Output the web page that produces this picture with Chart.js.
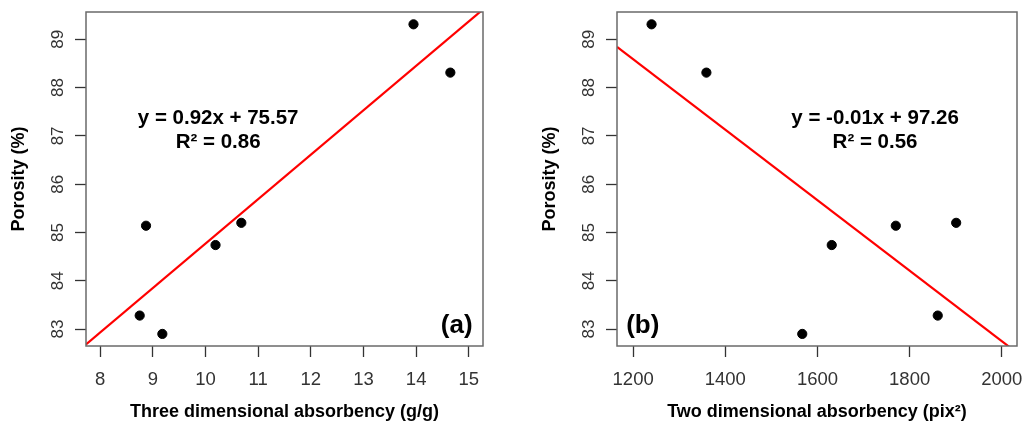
<!DOCTYPE html>
<html>
<head>
<meta charset="utf-8">
<script src="https://cdn.jsdelivr.net/npm/chart.js@4/dist/chart.umd.min.js"></script>
<style>
  html, body { margin: 0; padding: 0; background: #fff; }
  #wrap { position: relative; width: 1023px; height: 421px; overflow: hidden; }
  .panel { position: absolute; top: 0; height: 421px; }
</style>
</head>
<body>
<div id="wrap">
  <div class="panel" style="left:0;width:511px"><canvas id="chartA"></canvas></div>
  <div class="panel" style="left:531px;width:492px"><canvas id="chartB"></canvas></div>
</div>
<script>
// porosity (%) shared by both panels
const porosity = [89.31, 88.31, 85.14, 85.20, 84.74, 83.28, 82.90];
// (a) three dimensional absorbency (g/g)
const absorb3d = [13.95, 14.65, 8.87, 10.68, 10.19, 8.75, 9.18];
// (b) two dimensional absorbency (pix^2), same samples
const absorb2d = [1240, 1359, 1770, 1901, 1631, 1861, 1567];

const xTicksA = [8, 9, 10, 11, 12, 13, 14, 15];
const xTicksB = [1200, 1400, 1600, 1800, 2000];
const yTicks = [83, 84, 85, 86, 87, 88, 89];

// fitted lines as drawn in the figure (slope, intercept)
const fitA = [0.92, 75.57];
const fitB = [-0.0073, 97.35];

const eqA = ['y = 0.92x + 75.57', 'R² = 0.86'];
const eqB = ['y = -0.01x + 97.26', 'R² = 0.56'];

const FONT = '"Liberation Sans", Arial, sans-serif';

const boxPlugin = {
  id: 'box',
  afterDraw(chart) {
    const a = chart.chartArea, c = chart.ctx;
    c.save();
    c.strokeStyle = '#6a6a6a';
    c.lineWidth = 1.5;
    c.strokeRect(a.left, a.top, a.right - a.left, a.bottom - a.top);
    c.restore();
  }
};

const labelPlugin = {
  id: 'labels',
  afterDatasetsDraw(chart, args, opts) {
    const c = chart.ctx, xs = chart.scales.x, ys = chart.scales.y;
    c.save();
    c.fillStyle = '#000';
    c.textAlign = 'center';
    c.textBaseline = 'middle';
    c.font = 'bold 20.5px ' + FONT;
    opts.eq.forEach((t, i) => {
      c.fillText(t, xs.getPixelForValue(opts.eqX), ys.getPixelForValue(opts.eqY[i]));
    });
    c.font = 'bold 26px ' + FONT;
    c.fillText(opts.tag, xs.getPixelForValue(opts.tagX), ys.getPixelForValue(opts.tagY));
    c.restore();
  }
};

function noPad(s) {
  s.paddingTop = 0; s.paddingBottom = 0; s.paddingLeft = 0; s.paddingRight = 0;
}

function makeChart(id, xs, xTicks, xMin, xMax, fit, xTitle, lbl, padRight) {
  const pts = xs.map((x, i) => ({ x: x, y: porosity[i] }));
  const line = [xMin, xMax].map(x => ({ x: x, y: fit[0] * x + fit[1] }));
  return new Chart(document.getElementById(id), {
    type: 'scatter',
    data: {
      datasets: [
        { data: line, type: 'line', borderColor: '#ff0000', borderWidth: 2.2,
          pointRadius: 0, fill: false, clip: 0 },
        { data: pts, backgroundColor: '#000', borderColor: '#000',
          pointRadius: 4.6, pointHoverRadius: 4.6 }
      ]
    },
    options: {
      responsive: true,
      maintainAspectRatio: false,
      animation: false,
      events: [],
      layout: { padding: { top: 12, right: padRight, left: 0, bottom: 0 } },
      plugins: {
        legend: { display: false },
        tooltip: { enabled: false },
        labels: lbl
      },
      scales: {
        x: {
          type: 'linear', min: xMin, max: xMax, bounds: 'data',
          afterBuildTicks: s => { s.ticks = xTicks.map(v => ({ value: v })); },
          afterFit: s => { s.height = 75; noPad(s); },
          grid: { drawOnChartArea: false, drawTicks: true, tickLength: 11, color: '#333', tickWidth: 1.3 },
          border: { display: false },
          ticks: { color: '#333', font: { family: FONT, size: 18.5 }, padding: 12, maxRotation: 0,
                   autoSkip: false, callback: v => String(v) },
          title: { display: true, text: xTitle, color: '#000',
                   font: { family: FONT, size: 18, weight: 'bold' }, padding: { top: 0, bottom: -2 } }
        },
        y: {
          type: 'linear', min: 82.65, max: 89.565, bounds: 'data',
          afterBuildTicks: s => { s.ticks = yTicks.map(v => ({ value: v })); },
          afterFit: s => { s.width = 86; noPad(s); },
          grid: { drawOnChartArea: false, drawTicks: true, tickLength: 11, color: '#333', tickWidth: 1.3 },
          border: { display: false },
          ticks: { color: '#333', font: { family: FONT, size: 17 }, padding: 7, minRotation: 90,
                   maxRotation: 90, crossAlign: 'center', autoSkip: false, callback: v => String(v) },
          title: { display: true, text: 'Porosity (%)', color: '#000',
                   font: { family: FONT, size: 18, weight: 'bold' }, padding: { top: 8, bottom: 0 } }
        }
      }
    },
    plugins: [boxPlugin, labelPlugin]
  });
}

makeChart('chartA', absorb3d, xTicksA, 7.73, 15.27, fitA, 'Three dimensional absorbency (g/g)',
  { eq: eqA, eqX: 10.24, eqY: [87.37, 86.87], tag: '(a)', tagX: 14.77, tagY: 83.07 }, 28);
makeChart('chartB', absorb2d, xTicksB, 1165, 2033, fitB, 'Two dimensional absorbency (pix²)',
  { eq: eqB, eqX: 1725, eqY: [87.37, 86.87], tag: '(b)', tagX: 1221, tagY: 83.07 }, 6);
</script>
</body>
</html>
